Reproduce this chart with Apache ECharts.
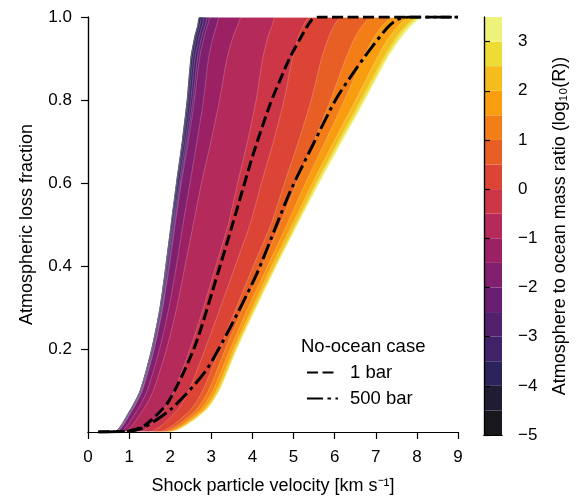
<!DOCTYPE html>
<html><head><meta charset="utf-8">
<script src="https://cdn.jsdelivr.net/npm/echarts@6/dist/echarts.min.js"></script>
<style>html,body{margin:0;padding:0;background:#fff}#c{width:579px;height:500px}</style>
</head><body><div id="c"></div>
<script>
// contour levels of log10(R)
const levels = [-5, -4.5, -4, -3.5, -3, -2.5, -2, -1.5, -1, -0.5, 0, 0.5, 1, 1.5, 2, 2.5, 3, 3.5];
// loss fraction values at which the boundary x positions are read
const ySamples = [0, 0.05, 0.1, 0.2, 0.3, 0.4, 0.5, 0.6, 0.7, 0.8, 0.9, 0.95, 0.98, 1.0];
// velocity (km/s) of each contour boundary at ySamples
const bndM50 = [0.62,1.00,1.26,1.54,1.74,1.88,2.01,2.14,2.28,2.40,2.49,2.58,2.66,2.72];
const bndM45 = [0.62,1.00,1.26,1.54,1.75,1.89,2.02,2.15,2.29,2.41,2.50,2.59,2.67,2.73];
const bndM40 = [0.63,1.01,1.27,1.55,1.75,1.89,2.02,2.15,2.30,2.42,2.51,2.60,2.68,2.74];
const bndM35 = [0.64,1.02,1.28,1.56,1.77,1.91,2.05,2.18,2.33,2.45,2.55,2.64,2.72,2.79];
const bndM30 = [0.65,1.04,1.30,1.58,1.79,1.93,2.07,2.22,2.37,2.50,2.60,2.70,2.78,2.85];
const bndM25 = [0.66,1.05,1.31,1.60,1.81,1.96,2.10,2.25,2.41,2.55,2.66,2.76,2.85,2.92];
const bndM20 = [0.67,1.06,1.32,1.61,1.82,1.98,2.12,2.27,2.44,2.59,2.71,2.82,2.91,2.99];
const bndM15 = [0.76,1.18,1.44,1.74,1.97,2.15,2.31,2.48,2.65,2.81,2.93,3.04,3.13,3.21];
const bndM10 = [0.86,1.32,1.59,1.91,2.16,2.36,2.56,2.76,2.99,3.20,3.38,3.52,3.64,3.75];
const bndM05 = [1.25,1.82,2.10,2.48,2.81,3.11,3.41,3.64,3.88,4.09,4.25,4.37,4.48,4.57];
const bndP00 = [1.48,2.15,2.45,2.85,3.22,3.58,3.94,4.22,4.51,4.77,4.97,5.11,5.24,5.40];
const bndP05 = [1.71,2.46,2.79,3.20,3.61,4.02,4.45,4.78,5.12,5.43,5.68,5.85,5.99,6.18];
const bndP10 = [1.81,2.60,2.93,3.34,3.77,4.22,4.67,5.07,5.49,5.90,6.27,6.49,6.68,6.91];
const bndP15 = [1.89,2.70,3.04,3.46,3.90,4.37,4.84,5.29,5.77,6.24,6.69,6.95,7.17,7.42];
const bndP20 = [1.94,2.77,3.12,3.54,4.00,4.47,4.97,5.46,5.98,6.51,7.02,7.31,7.56,7.83];
const bndP25 = [1.97,2.81,3.16,3.59,4.05,4.54,5.04,5.55,6.09,6.64,7.18,7.49,7.74,8.03];
const bndP30 = [1.99,2.84,3.19,3.61,4.08,4.57,5.08,5.59,6.14,6.70,7.24,7.56,7.81,8.10];
const bndP35 = [2.00,2.85,3.20,3.63,4.10,4.59,5.10,5.63,6.18,6.74,7.28,7.62,7.88,8.16];
const boundaries = [bndM50,bndM45,bndM40,bndM35,bndM30,bndM25,bndM20,bndM15,bndM10,bndM05,
                    bndP00,bndP05,bndP10,bndP15,bndP20,bndP25,bndP30,bndP35];
// colours of the 17 bands (low to high)
const bandColors = ['#18181c','#1f1c34','#2b2359','#3f2267','#53206e','#6a1e72','#7f1f6e','#9b2064',
                    '#b42a5a','#cc3646','#dc4536','#e85f26','#f37d17','#f89c10','#f5bc1e','#ecdc34','#eef27a'];
// no-ocean cases
const oneBarX = [0.25,1.0,1.38,1.95,2.6,3.16,3.53,4.02,4.43,4.68,4.9,5.24,5.44,5.6,9];
const oneBarY = [0,0.003,0.016,0.072,0.207,0.383,0.505,0.67,0.79,0.85,0.9,0.962,0.993,1,1];
const bar500X = [0.25,1.0,1.38,2.03,2.84,3.45,4.1,4.59,4.92,5.48,6.05,6.7,7.27,7.51,7.8,9];
const bar500Y = [0,0.002,0.012,0.056,0.144,0.25,0.38,0.5,0.58,0.694,0.805,0.9,0.973,0.993,1,1];
// ticks
const xTicks = [0,1,2,3,4,5,6,7,8,9];
const yTicks = [0.2,0.4,0.6,0.8,1.0];
const cbTicks = [-5,-4,-3,-2,-1,0,1,2,3];

const FONT = 'Liberation Sans';
const chart = echarts.init(document.getElementById('c'), null, {renderer:'canvas'});

const series = [];
boundaries.forEach((bx, i) => {
  const data = [[0, 0]];
  bx.forEach((x, j) => data.push([x, ySamples[j]]));
  data.push([9, 1]);
  const last = i === boundaries.length - 1;
  series.push({
    type: 'line', name: 'L' + levels[i], xAxisIndex: 0, yAxisIndex: 0, data,
    symbol: 'none', smooth: 0.25, silent: true, z: 2,
    lineStyle: {width: (i === 0 || last) ? 0 : 0.7, color: 'rgba(255,255,255,0.3)'},
    areaStyle: {color: last ? '#ffffff' : bandColors[i], opacity: 1}
  });
});
series.push({
  type: 'line', name: '1 bar', xAxisIndex: 0, yAxisIndex: 0, z: 4,
  data: oneBarX.map((x, i) => [x, oneBarY[i]]), symbol: 'none', smooth: 0.25,
  lineStyle: {color: '#000', width: 3, type: [11, 4.5]}, itemStyle: {color: '#000'}
});
series.push({
  type: 'line', name: '500 bar', xAxisIndex: 0, yAxisIndex: 0, z: 4,
  data: bar500X.map((x, i) => [x, bar500Y[i]]), symbol: 'none', smooth: 0.25,
  lineStyle: {color: '#000', width: 3, type: [16, 4.5, 3.5, 4.5]}, itemStyle: {color: '#000'}
});
bandColors.forEach((c, i) => {
  series.push({
    type: 'bar', name: 'cb' + i, xAxisIndex: 2, yAxisIndex: 2, stack: 'cb', silent: true,
    barWidth: '100%', data: [levels[i + 1] - levels[i]], itemStyle: {color: c}
  });
});

const axLine = {show: true, lineStyle: {color: '#000', width: 1.2}};
const labelStyle = {color: '#000', fontFamily: FONT, fontSize: 17};
chart.setOption({
  animation: false,
  backgroundColor: '#fff',
  title: {text: 'No-ocean case', left: 301, top: 337, padding: 0,
    textStyle: {fontFamily: FONT, fontSize: 18.5, fontWeight: 'normal', color: '#000'}},
  legend: {data: ['1 bar', '500 bar'], orient: 'vertical', left: 306, top: 363, padding: 0,
    itemWidth: 31, itemHeight: 18, itemGap: 7,
    itemStyle: {color: 'rgba(0,0,0,0)', borderWidth: 0, opacity: 0},
    textStyle: {fontFamily: FONT, fontSize: 18.5, color: '#000', padding: [0, 0, 0, 7]}},
  grid: [
    {left: 88, top: 17, width: 370, height: 418},
    {left: 484, top: 17, width: 18, height: 418}
  ],
  xAxis: [
    {type: 'value', gridIndex: 0, min: 0, max: 9, interval: 1, z: 10, position: 'bottom',
     axisLine: axLine, splitLine: {show: false},
     axisTick: {show: true, length: 7, lineStyle: {color: '#000', width: 1.2}, customValues: xTicks},
     axisLabel: Object.assign({margin: 17, customValues: xTicks}, labelStyle),
     name: 'Shock particle velocity [km s\u207B\u00B9]', nameLocation: 'middle', nameGap: 45,
     nameTextStyle: {fontFamily: FONT, fontSize: 18, color: '#000'}},
    {type: 'value', gridIndex: 0, min: 0, max: 9, position: 'top', z: 10,
     axisLine: axLine, axisTick: {show: false}, axisLabel: {show: false}, splitLine: {show: false}},
    {type: 'category', gridIndex: 1, data: ['cb'], z: 10, position: 'bottom',
     axisLine: axLine, axisTick: {show: false}, axisLabel: {show: false}, splitLine: {show: false}},
    {type: 'value', gridIndex: 1, min: 0, max: 1, position: 'top', z: 10,
     axisLine: axLine, axisTick: {show: false}, axisLabel: {show: false}, splitLine: {show: false}}
  ],
  yAxis: [
    {type: 'value', gridIndex: 0, min: 0, max: 1, interval: 0.2, z: 10, position: 'left',
     axisLine: axLine, splitLine: {show: false},
     axisTick: {show: true, length: 7, lineStyle: {color: '#000', width: 1.2}, customValues: yTicks},
     axisLabel: Object.assign({margin: 16, customValues: yTicks, formatter: v => v.toFixed(1)}, labelStyle),
     name: 'Atmospheric loss fraction', nameLocation: 'middle', nameGap: 52, nameRotate: 90,
     nameTextStyle: {fontFamily: FONT, fontSize: 18, color: '#000'}},
    {type: 'value', gridIndex: 0, min: 0, max: 1, position: 'right', z: 10,
     axisLine: axLine, axisTick: {show: false}, axisLabel: {show: false}, splitLine: {show: false}},
    {type: 'value', gridIndex: 1, min: 0, max: levels[levels.length - 1] - levels[0], position: 'right', z: 10,
     axisLine: axLine, splitLine: {show: false},
     axisTick: {show: true, length: 6, lineStyle: {color: '#000', width: 1.2}, customValues: cbTicks.map(v => v - levels[0])},
     axisLabel: Object.assign({margin: 16, customValues: cbTicks.map(v => v - levels[0]),
       formatter: v => { const t = Math.round(v + levels[0]); return t < 0 ? '\u2212' + Math.abs(t) : String(t); }}, labelStyle),
     name: 'Atmosphere to ocean mass ratio (log\u2081\u2080(R))', nameLocation: 'middle', nameGap: 49, nameRotate: 90,
     nameTextStyle: {fontFamily: FONT, fontSize: 18, color: '#000'}},
    {type: 'value', gridIndex: 1, min: 0, max: 1, position: 'left', z: 10,
     axisLine: axLine, axisTick: {show: false}, axisLabel: {show: false}, splitLine: {show: false}}
  ],
  series
});
</script></body></html>
